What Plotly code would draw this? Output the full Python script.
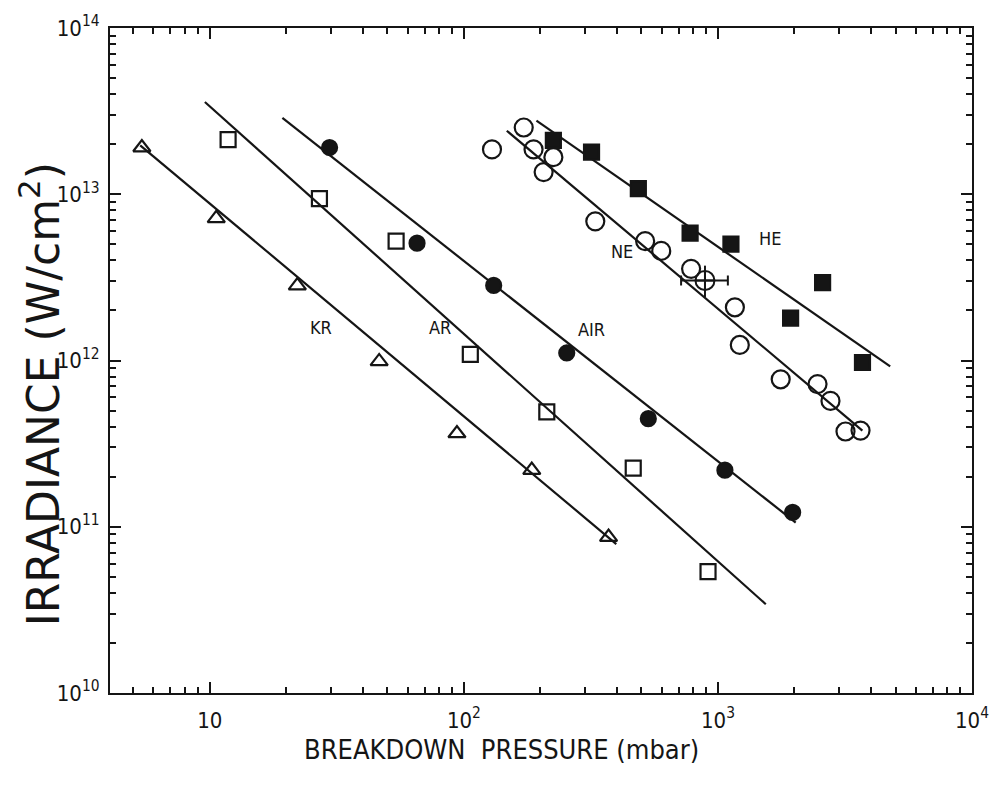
import math
import plotly.graph_objects as go

# Breakdown irradiance (W/cm^2) versus gas pressure (mbar)
kr_p = [5.4, 10.6, 22.1, 46.4, 93.9, 185, 371]
kr_i = [1.91e13, 7.16e12, 2.82e12, 9.87e11, 3.64e11, 2.19e11, 8.66e10]

ar_p = [11.8, 27.0, 54.1, 106, 212, 464, 914]
ar_i = [2.13e13, 9.40e12, 5.22e12, 1.09e12, 4.91e11, 2.25e11, 5.37e10]

air_p = [29.6, 65.4, 131, 254, 532, 1065, 1968]
air_i = [1.91e13, 5.08e12, 2.83e12, 1.11e12, 4.47e11, 2.19e11, 1.22e11]

ne_p = [129, 172, 188, 225, 206, 329, 517, 598, 784, 1166, 1219, 1766, 2466, 2773, 3177, 3641]
ne_i = [1.86e13, 2.52e13, 1.86e13, 1.67e13, 1.36e13, 6.87e12, 5.22e12, 4.56e12, 3.56e12,
        2.09e12, 1.24e12, 7.71e11, 7.21e11, 5.71e11, 3.74e11, 3.79e11]

# neon point shown with its uncertainty
ne_err_p = [889]
ne_err_i = [3.03e12]
ne_err_p_plus = [205]
ne_err_p_minus = [173]
ne_err_i_plus = [0.69e12]
ne_err_i_minus = [0.63e12]

he_p = [225, 318, 486, 777, 1125, 2582, 1932, 3706]
he_i = [2.11e13, 1.79e13, 1.08e13, 5.83e12, 5.01e12, 2.94e12, 1.80e12, 9.73e11]

# fitted power-law lines (end points)
kr_fit_p, kr_fit_i = [5.32, 398], [1.97e13, 7.87e10]
ar_fit_p, ar_fit_i = [9.56, 1543], [3.59e13, 3.42e10]
air_fit_p, air_fit_i = [19.3, 2023], [2.88e13, 1.06e11]
ne_fit_p, ne_fit_i = [147.5, 3703], [2.41e13, 3.79e11]
he_fit_p, he_fit_i = [193, 4764], [2.77e13, 9.21e11]

# gas labels
label_text = ["KR", "AR", "AIR", "NE", "HE"]
label_p = [27.3, 80.5, 317, 418, 1600]
label_i = [1.57e12, 1.57e12, 1.53e12, 4.50e12, 5.44e12]

x_tickvals = [10, 100, 1000, 10000]
x_ticktext = ["10", "10<sup>2</sup>", "10<sup>3</sup>", "10<sup>4</sup>"]
y_tickvals = [1e10, 1e11, 1e12, 1e13, 1e14]
y_ticktext = ["10<sup>10</sup>", "10<sup>11</sup>", "10<sup>12</sup>", "10<sup>13</sup>", "10<sup>14</sup>"]

INK = "#151515"
NARROW = "Liberation Sans Narrow, DejaVu Sans Condensed, Arial Narrow, sans-serif"

fig = go.Figure()

for fx, fy in [(kr_fit_p, kr_fit_i), (ar_fit_p, ar_fit_i), (air_fit_p, air_fit_i),
               (ne_fit_p, ne_fit_i), (he_fit_p, he_fit_i)]:
    fig.add_trace(go.Scatter(x=fx, y=fy, mode="lines",
                             line=dict(color=INK, width=2.2), showlegend=False))

def markers(x, y, symbol, size):
    return go.Scatter(x=x, y=y, mode="markers", showlegend=False,
                      marker=dict(symbol=symbol, size=size, color=INK,
                                  line=dict(color=INK, width=2.2)))

fig.add_trace(markers(kr_p, kr_i, "triangle-up-open", 15))
fig.add_trace(markers(ar_p, ar_i, "square-open", 15))
fig.add_trace(markers(air_p, air_i, "circle", 15))
fig.add_trace(markers(ne_p, ne_i, "circle-open", 18))
fig.add_trace(markers(he_p, he_i, "square", 15))

fig.add_trace(go.Scatter(
    x=ne_err_p, y=ne_err_i, mode="markers", showlegend=False,
    marker=dict(symbol="circle-cross-open", size=19, color=INK,
                line=dict(color=INK, width=2)),
    error_x=dict(type="data", array=ne_err_p_plus, arrayminus=ne_err_p_minus,
                 color=INK, thickness=2, width=5),
    error_y=dict(type="data", array=ne_err_i_plus, arrayminus=ne_err_i_minus,
                 color=INK, thickness=2, width=0),
))

# annotations on log axes are positioned in log10 units
for t, px, py in zip(label_text, label_p, label_i):
    fig.add_annotation(x=math.log10(px), y=math.log10(py), text=t, showarrow=False,
                       xref="x", yref="y", xanchor="center", yanchor="middle",
                       font=dict(family=NARROW, size=18, color=INK))

def minor_vals(lo, hi):
    return [m * 10 ** d for d in range(lo, hi) for m in range(2, 10)]

axis_common = dict(
    type="log", showgrid=False, zeroline=False,
    showline=True, linecolor=INK, linewidth=2.2, mirror="allticks",
    ticks="inside", ticklen=11, tickwidth=2, tickcolor=INK,
    tickmode="array",
    tickfont=dict(family=NARROW, size=22, color=INK),
)

fig.update_xaxes(
    **axis_common,
    range=[0.607, 4.0],
    tickvals=x_tickvals, ticktext=x_ticktext,
    ticklabelstandoff=6,
    minor=dict(ticks="inside", ticklen=6, tickwidth=1.5, tickcolor=INK,
               tickmode="array", tickvals=minor_vals(0, 4), showgrid=False),
)
fig.update_yaxes(
    **axis_common,
    range=[10, 14],
    tickvals=y_tickvals, ticktext=y_ticktext,
    ticklabelstandoff=4,
    minor=dict(ticks="inside", ticklen=6, tickwidth=1.5, tickcolor=INK,
               tickmode="array", tickvals=minor_vals(10, 14), showgrid=False),
)

fig.add_annotation(text="BREAKDOWN  PRESSURE (mbar)", xref="paper", yref="paper",
                   x=0.4536, y=-0.0846, xanchor="center", yanchor="middle",
                   showarrow=False, font=dict(family=NARROW, size=27, color=INK))
fig.add_annotation(text="IRRADIANCE (W/cm<sup>2</sup>)", xref="paper", yref="paper",
                   x=-0.082, y=0.4496, xanchor="center", yanchor="middle",
                   textangle=-90, showarrow=False,
                   font=dict(family="DejaVu Sans, sans-serif", size=44, color=INK))

fig.update_layout(
    width=1001, height=785,
    margin=dict(l=110, r=29, t=19, b=92),
    paper_bgcolor="white", plot_bgcolor="white",
    showlegend=False,
)

fig.write_html("out.html")
